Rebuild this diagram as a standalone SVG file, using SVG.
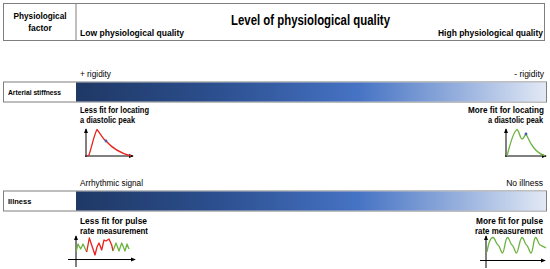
<svg xmlns="http://www.w3.org/2000/svg" width="550" height="269" viewBox="0 0 550 269">
<defs>
<linearGradient id="grad" x1="0" y1="0" x2="1" y2="0">
<stop offset="0" stop-color="#1f3864"/>
<stop offset="0.3" stop-color="#2c4f8f"/>
<stop offset="0.6" stop-color="#4673c4"/>
<stop offset="0.82" stop-color="#98b1de"/>
<stop offset="1" stop-color="#e2e9f5"/>
</linearGradient>
<marker id="ah" viewBox="0 0 6 6" refX="5" refY="3" markerWidth="5" markerHeight="5" orient="auto">
<path d="M0,0.5 L6,3 L0,5.5 z" fill="#000"/>
</marker>
</defs>
<style>
text{font-family:"Liberation Sans",Arial,sans-serif;fill:#000}
.b{font-weight:bold}
.s{font-size:8.5px}
.box{fill:#fff;stroke:#7f7f7f;stroke-width:1}
.ax{stroke:#000;stroke-width:1;fill:none;marker-end:url(#ah)}
.red{stroke:#e8221e;stroke-width:1.3;fill:none;stroke-linejoin:round}
.grn{stroke:#6cb33f;stroke-width:1.3;fill:none;stroke-linejoin:round}
</style>
<rect width="550" height="269" fill="#fff"/>
<g id="header">
<rect class="box" x="3.5" y="3.5" width="541" height="37"/>
<line x1="76" y1="3.5" x2="76" y2="40.5" stroke="#7f7f7f"/>
<text class="b s" x="40" y="19" text-anchor="middle" textLength="53" lengthAdjust="spacingAndGlyphs">Physiological</text>
<text class="b s" x="40" y="31" text-anchor="middle">factor</text>
<text class="b" x="231" y="25" font-size="14.5" textLength="159" lengthAdjust="spacingAndGlyphs">Level of physiological quality</text>
<text class="b s" x="80" y="36" textLength="104" lengthAdjust="spacingAndGlyphs">Low physiological quality</text>
<text class="b s" x="438" y="36" textLength="105" lengthAdjust="spacingAndGlyphs">High physiological quality</text>
</g>
<g id="arterial">
<text class="s" x="80" y="77" textLength="31" lengthAdjust="spacingAndGlyphs">+ rigidity</text>
<text class="s" x="544" y="77" text-anchor="end">- rigidity</text>
<rect class="box" x="3.5" y="82" width="543" height="20"/>
<rect x="76" y="82.5" width="470" height="19" fill="url(#grad)"/>
<text class="b" x="8" y="95" font-size="7.5" textLength="53" lengthAdjust="spacingAndGlyphs">Arterial stiffness</text>
<text class="b s" x="80" y="113" textLength="69" lengthAdjust="spacingAndGlyphs">Less fit for locating</text>
<text class="b s" x="80" y="123" textLength="55" lengthAdjust="spacingAndGlyphs">a diastolic peak</text>
<text class="b s" x="468" y="113" textLength="76" lengthAdjust="spacingAndGlyphs">More fit for locating</text>
<text class="b s" x="488" y="123" textLength="55" lengthAdjust="spacingAndGlyphs">a diastolic peak</text>
</g>
<g id="graph-stiff">
<line class="ax" x1="86" y1="157" x2="86" y2="129"/>
<line class="ax" x1="85" y1="156" x2="133" y2="156"/>
<path class="red" d="M87,156 L89,155 C92,146 94,135 97,129.5 C100,133 103,139 106,141 C112,148 120,153 131,156"/>
<circle cx="106" cy="141" r="1.4" fill="#4a5fb0"/>
<line class="ax" x1="506" y1="157" x2="506" y2="129"/>
<line class="ax" x1="505" y1="156" x2="546" y2="156"/>
<path class="grn" d="M507,156 C510,145 513,131.5 517,129.5 C519,130 520,139 522,139 C524,139 525,134 526,134 C529,139 532,151 545,156"/>
<circle cx="526" cy="134" r="1.4" fill="#4a5fb0"/>
</g>
<g id="illness">
<text class="s" x="80" y="186" textLength="63" lengthAdjust="spacingAndGlyphs">Arrhythmic signal</text>
<text class="s" x="543" y="186" text-anchor="end">No illness</text>
<rect class="box" x="3.5" y="191" width="543" height="20"/>
<rect x="76" y="191.5" width="470" height="19" fill="url(#grad)"/>
<text class="b" x="8" y="203.5" font-size="7.5">Illness</text>
<text class="b s" x="80" y="223.5" textLength="67" lengthAdjust="spacingAndGlyphs">Less fit for pulse</text>
<text class="b s" x="80" y="233.5" textLength="68" lengthAdjust="spacingAndGlyphs">rate measurement</text>
<text class="b s" x="476" y="223.5" textLength="67" lengthAdjust="spacingAndGlyphs">More fit for pulse</text>
<text class="b s" x="475" y="233.5" textLength="68" lengthAdjust="spacingAndGlyphs">rate measurement</text>
</g>
<g id="graph-illness">
<line class="ax" x1="76" y1="267" x2="76" y2="236"/>
<line class="ax" x1="68" y1="259.5" x2="135" y2="259.5"/>
<path class="grn" d="M76,252 L78,244 L80.7,249 L83,244 L86.7,252"/>
<path class="red" d="M86.7,252 L89.3,238 L92,246 L95,255 L97,247 L99,243 L101.7,250 L104,240 L106,241 L109,239 L111.7,245 L113,251"/>
<path class="grn" d="M113,251 L116,243 L119,251 L121.7,243 L125,251 L127,244 L129,249"/>
<line class="ax" x1="486" y1="268" x2="486" y2="236"/>
<line class="ax" x1="480" y1="260.5" x2="545" y2="260.5"/>
<path class="grn" d="M487,252 C489,240 491,237.5 493,237.5 C495,237.5 496,244 498,245 C500,246 501,253 502.5,253 C504.5,253 505,238 507.5,237.5 C509.5,237.5 510,244 512,245 C514,246 515,253 516.5,253 C518.5,253 519.5,238 522,237.5 C524,237.5 524.5,244 526.5,245 C528.5,246 529.5,253 531,253 C533,253 533.5,238 535.5,237.5 C537.5,237.5 538,244 540,245 C542,246 543,246 546,248"/>
</g>
</svg>
